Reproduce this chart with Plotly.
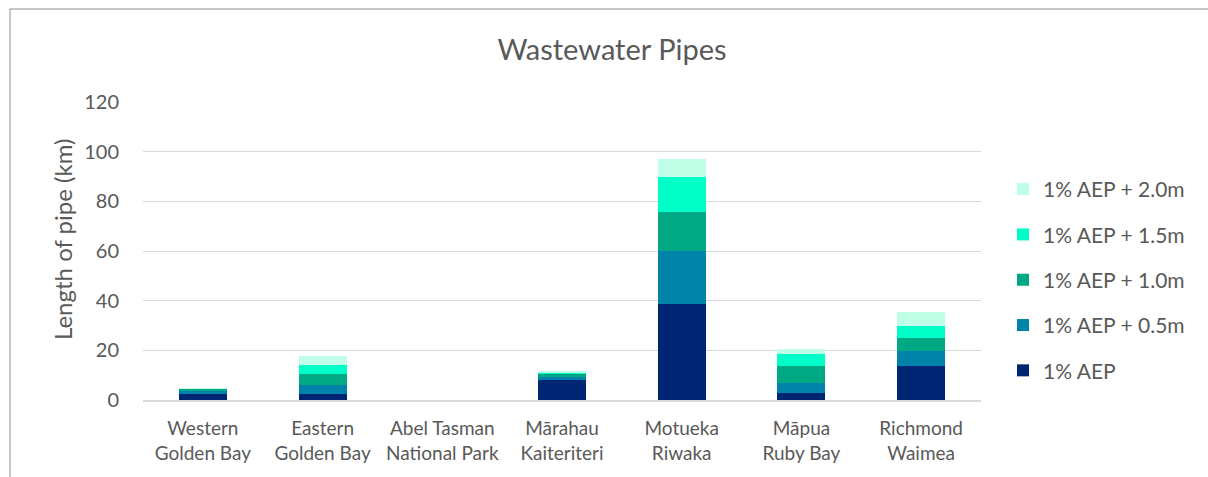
import plotly.graph_objects as go

# Catchment areas along the x axis
categories = [
    "Western<br>Golden Bay",
    "Eastern<br>Golden Bay",
    "Abel Tasman<br>National Park",
    "Mārahau<br>Kaiteriteri",
    "Motueka<br>Riwaka",
    "Māpua<br>Ruby Bay",
    "Richmond<br>Waimea",
]

# Length of wastewater pipe (km) exposed in each scenario (stacked increments)
aep_1pct = [2.3, 2.3, 0.0, 8.1, 38.6, 2.8, 13.6]
aep_plus_0_5m = [1.6, 3.8, 0.0, 1.3, 21.6, 4.2, 6.3]
aep_plus_1_0m = [0.6, 4.2, 0.0, 1.1, 15.5, 6.5, 4.9]
aep_plus_1_5m = [0.2, 3.8, 0.0, 0.7, 14.1, 5.2, 4.8]
aep_plus_2_0m = [0.1, 3.5, 0.0, 0.6, 7.2, 2.0, 5.7]

series = [
    ("1% AEP", aep_1pct, "#002673"),
    ("1% AEP + 0.5m", aep_plus_0_5m, "#0083A8"),
    ("1% AEP + 1.0m", aep_plus_1_0m, "#00A884"),
    ("1% AEP + 1.5m", aep_plus_1_5m, "#00FFC8"),
    ("1% AEP + 2.0m", aep_plus_2_0m, "#BFFFE8"),
]

FONT = "Lato"
TEXT = "#595959"

fig = go.Figure()
for i, (name, vals, color) in enumerate(series):
    fig.add_trace(go.Bar(
        x=categories, y=vals, name=name,
        marker=dict(color=color, line=dict(width=0)),
        legendgroup=f"g{i}",
        legendrank=len(series) - i,  # top of the stack listed first
    ))

W, H = 1208, 477
L, R, T, B = 143, 227, 102, 77
pw, ph = W - L - R, H - T - B

def px_x(px):
    return (px - L) / pw

def px_y(py):
    return (H - B - py) / ph

fig.update_layout(
    width=W, height=H,
    margin=dict(l=L, r=R, t=T, b=B),
    barmode="stack",
    bargap=0.6,
    paper_bgcolor="white",
    plot_bgcolor="white",
    font=dict(family=FONT, color=TEXT, size=19),
    title=dict(
        text="Wastewater Pipes",
        x=612 / W, xref="container", xanchor="center",
        y=1 - 50 / H, yref="container", yanchor="middle",
        font=dict(family=FONT, size=29, color=TEXT),
    ),
    xaxis=dict(
        showgrid=False, showline=True, linecolor="#d9d9d9", linewidth=2,
        ticks="", tickfont=dict(size=19, color=TEXT),
        ticklabelstandoff=10,
        fixedrange=True,
    ),
    yaxis=dict(
        range=[0, 120], dtick=20, showgrid=True, gridcolor="#d9d9d9",
        gridwidth=1.2, zeroline=False, ticks="", ticklabelstandoff=23,
        tickfont=dict(size=20, color=TEXT),
    ),
    legend=dict(
        x=px_x(1003), xanchor="left",
        y=px_y(169), yanchor="top",
        traceorder="grouped",
        tracegroupgap=15,
        font=dict(size=21, color=TEXT),
        bgcolor="rgba(0,0,0,0)",
    ),
    showlegend=True,
)

# Vertical axis title
fig.add_annotation(
    text="Length of pipe (km)", textangle=-90,
    x=px_x(62), y=px_y(240), xref="paper", yref="paper",
    xanchor="center", yanchor="middle",
    showarrow=False, font=dict(family=FONT, size=24, color=TEXT),
)

# Chart border
fig.add_shape(
    type="rect", xref="paper", yref="paper",
    x0=px_x(10), x1=px_x(1300), y0=px_y(600), y1=px_y(9),
    line=dict(color="#8c8c8c", width=1), fillcolor="rgba(0,0,0,0)",
    layer="below",
)

fig.write_html("out.html")
